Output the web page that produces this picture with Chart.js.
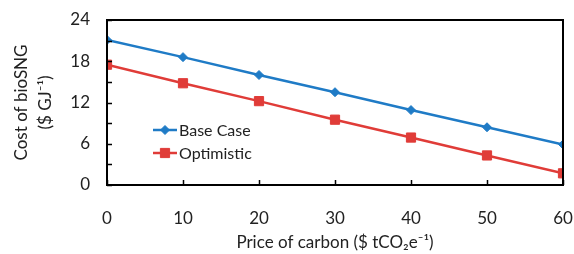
<!DOCTYPE html>
<html>
<head>
<meta charset="utf-8">
<script src="https://cdn.jsdelivr.net/npm/chart.js@4/dist/chart.umd.min.js"></script>
<style>
    html, body { margin: 0; padding: 0; background: #fff; }
    #wrap { width: 574px; height: 254px; }
</style>
</head>
<body>
<div id="wrap"><canvas id="chart" width="574" height="254"></canvas></div>
<script>
    // data
    const carbonPrice = [0, 10, 20, 30, 40, 50, 60]
    const baseCase = [21.1, 18.6, 16.0, 13.5, 10.9, 8.4, 5.9]
    const optimistic = [17.5, 14.8, 12.2, 9.5, 6.9, 4.3, 1.7]
    const seriesNames = ['Base Case', 'Optimistic']
    const yTicks = [0, 6, 12, 18, 24]

    const blue = '#1f7bc6'
    const red = '#e03c38'
    const fontName = 'Lato'

    const toPoints = (arr) => arr.map((v, i) => ({ x: carbonPrice[i], y: v }))

    // box round the plot and inward ticks
    const frame = {
        id: 'frame',
        afterDatasetsDraw(chart) {
            const ctx = chart.ctx
            const a = chart.chartArea
            const xs = chart.scales.x
            const ys = chart.scales.y
            ctx.save()
            ctx.strokeStyle = '#000'
            ctx.lineWidth = 1.5
            ctx.beginPath()
            for (let v = 0; v <= 24; v += 3) {
                const py = Math.round(ys.getPixelForValue(v)) + 0.5
                ctx.moveTo(a.left, py)
                ctx.lineTo(a.left + 5, py)
            }
            carbonPrice.forEach(v => {
                const px = Math.round(xs.getPixelForValue(v)) + 0.5
                ctx.moveTo(px, a.bottom)
                ctx.lineTo(px, a.bottom - 5)
            })
            ctx.stroke()
            ctx.lineWidth = 2
            ctx.strokeRect(a.left, a.top, a.right - a.left, a.bottom - a.top)
            ctx.restore()
        }
    }

    // legend drawn inside the plot area
    const innerLegend = {
        id: 'innerLegend',
        afterDraw(chart) {
            const ctx = chart.ctx
            const a = chart.chartArea
            const x0 = a.left + 46
            let y = a.top + 110
            ctx.save()
            chart.data.datasets.forEach(ds => {
                ctx.strokeStyle = ds.borderColor
                ctx.fillStyle = ds.backgroundColor
                ctx.lineWidth = ds.borderWidth
                ctx.beginPath()
                ctx.moveTo(x0, y)
                ctx.lineTo(x0 + 24, y)
                ctx.stroke()
                ctx.lineWidth = 1
                Chart.helpers.drawPoint(ctx, {
                    pointStyle: ds.pointStyle,
                    radius: ds.pointRadius,
                    borderWidth: 1
                }, x0 + 12, y)
                ctx.fillStyle = '#222'
                ctx.font = '16px ' + fontName
                ctx.textBaseline = 'middle'
                ctx.fillText(ds.label, x0 + 26, y + 1)
                y += 23
            })
            ctx.restore()
        }
    }

    Chart.defaults.font.family = fontName
    Chart.defaults.font.size = 17
    Chart.defaults.color = '#222'

    new Chart(document.getElementById('chart').getContext('2d'), {
        type: 'line',
        data: {
            datasets: [
                {
                    label: seriesNames[0],
                    data: toPoints(baseCase),
                    borderColor: blue,
                    backgroundColor: blue,
                    borderWidth: 2.5,
                    pointStyle: 'rectRot',
                    pointRadius: 4.5,
                    pointBorderWidth: 1
                },
                {
                    label: seriesNames[1],
                    data: toPoints(optimistic),
                    borderColor: red,
                    backgroundColor: red,
                    borderWidth: 2.5,
                    pointStyle: 'rect',
                    pointRadius: 6.5,
                    pointBorderWidth: 1
                }
            ]
        },
        options: {
            responsive: false,
            animation: false,
            layout: { padding: { top: 20, right: 0, left: 0, bottom: 0 } },
            plugins: {
                legend: { display: false },
                tooltip: { enabled: false }
            },
            scales: {
                x: {
                    type: 'linear',
                    min: 0,
                    max: 60,
                    grid: { display: false, drawTicks: false },
                    border: { display: false },
                    ticks: {
                        stepSize: 10,
                        padding: 23,
                        maxRotation: 0,
                        callback: (v) => carbonPrice.includes(v) ? String(v) : ''
                    },
                    title: {
                        display: true,
                        text: 'Price of carbon ($ tCO\u2082e\u207B\u00B9)',
                        font: { size: 17, lineHeight: 1.2 },
                        padding: { top: 0, bottom: 1 }
                    },
                    afterFit: (scale) => {
                        scale.height = 69
                        scale.paddingLeft = 0
                        scale.paddingRight = 11
                    }
                },
                y: {
                    min: 0,
                    max: 24,
                    grid: { display: false, drawTicks: false },
                    border: { display: false },
                    afterBuildTicks: (scale) => { scale.ticks = yTicks.map(v => ({ value: v })) },
                    ticks: { padding: 17 },
                    title: {
                        display: true,
                        text: ['Cost of bioSNG', '($ GJ\u207B\u00B9)'],
                        font: { size: 17, lineHeight: 1.4 },
                        padding: { top: 10, bottom: 0 }
                    },
                    afterFit: (scale) => {
                        scale.width = 107
                        scale.paddingTop = 0
                        scale.paddingBottom = 0
                    }
                }
            }
        },
        plugins: [frame, innerLegend]
    })
</script>
</body>
</html>
